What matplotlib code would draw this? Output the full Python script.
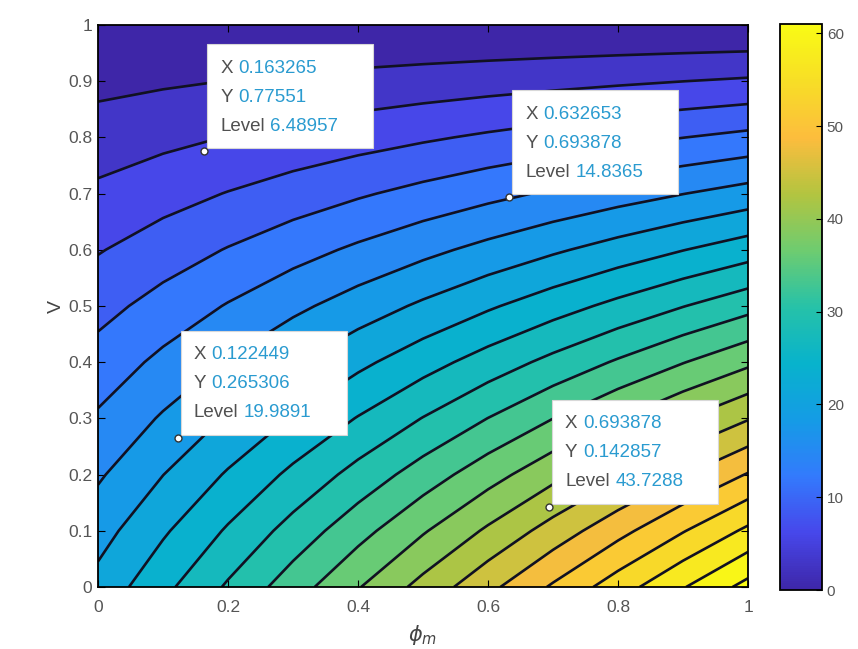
import numpy as np
import matplotlib
matplotlib.use("Agg")
import matplotlib.pyplot as plt
import matplotlib.transforms as mtransforms
from matplotlib.colors import LinearSegmentedColormap, Normalize
from matplotlib.patches import Rectangle
from matplotlib.cm import ScalarMappable

plt.rcParams['font.family'] = ['Liberation Sans', 'DejaVu Sans']

# grid nodes
phi_m = [0.0, 0.1, 0.2, 0.3, 0.4, 0.5, 0.6, 0.7, 0.8, 0.9, 1.0]
v = [0.0, 0.1, 0.2, 0.3, 0.4, 0.5, 0.6, 0.7, 0.8, 0.9, 1.0]

# level values, one row per V (V = 0 first), one column per phi_m
level = [
    [22.00, 26.20, 30.40, 34.60, 38.80, 43.00, 47.20, 51.40, 55.60, 59.80, 64.00],
    [19.80, 23.58, 27.36, 31.14, 34.92, 38.70, 42.48, 46.26, 50.04, 53.82, 57.60],
    [17.60, 20.96, 24.32, 27.68, 31.04, 34.40, 37.76, 41.12, 44.48, 47.84, 51.20],
    [15.40, 18.34, 21.28, 24.22, 27.16, 30.10, 33.04, 35.98, 38.92, 41.86, 44.80],
    [13.20, 15.72, 18.24, 20.76, 23.28, 25.80, 28.32, 30.84, 33.36, 35.88, 38.40],
    [11.00, 13.10, 15.20, 17.30, 19.40, 21.50, 23.60, 25.70, 27.80, 29.90, 32.00],
    [8.80, 10.48, 12.16, 13.84, 15.52, 17.20, 18.88, 20.56, 22.24, 23.92, 25.60],
    [6.60, 7.86, 9.12, 10.38, 11.64, 12.90, 14.16, 15.42, 16.68, 17.94, 19.20],
    [4.40, 5.24, 6.08, 6.92, 7.76, 8.60, 9.44, 10.28, 11.12, 11.96, 12.80],
    [2.20, 2.62, 3.04, 3.46, 3.88, 4.30, 4.72, 5.14, 5.56, 5.98, 6.40],
    [0.00, 0.00, 0.00, 0.00, 0.00, 0.00, 0.00, 0.00, 0.00, 0.00, 0.00],
]

# data tips
tip_x = [0.163265, 0.632653, 0.122449, 0.693878]
tip_y = [0.77551, 0.693878, 0.265306, 0.142857]
tip_level = ['6.48957', '14.8365', '19.9891', '43.7288']

contour_levels = np.arange(0, 67, 3)
cbar_ticks = [0, 10, 20, 30, 40, 50, 60]

parula = LinearSegmentedColormap.from_list('parula', [
    (0.2422, 0.1504, 0.6603), (0.2777, 0.2800, 0.9200), (0.2000, 0.4800, 0.9900),
    (0.0800, 0.6100, 0.9000), (0.0300, 0.7000, 0.8000), (0.1500, 0.7600, 0.6600),
    (0.4300, 0.8000, 0.4400), (0.7000, 0.7700, 0.2500), (0.9900, 0.7400, 0.2400),
    (0.9700, 0.8700, 0.1500), (0.9769, 0.9839, 0.0805)])
norm = Normalize(0, 61)

fig = plt.figure(figsize=(8.58, 6.49), dpi=100)
ax = fig.add_axes([0.1142, 0.0955, 0.7576, 0.866])
cax = fig.add_axes([0.909, 0.0909, 0.049, 0.872])

X, Y = np.meshgrid(phi_m, v)
Z = np.array(level)
band_colors = [parula(norm(l)) for l in contour_levels[:-1]]
ax.contourf(X, Y, Z, levels=contour_levels, colors=band_colors)
ax.contour(X, Y, Z, levels=contour_levels[1:-1], colors='#111122', linewidths=1.9)

ax.set_xlim(0, 1)
ax.set_ylim(0, 1)
ax.set_xticks([0, 0.2, 0.4, 0.6, 0.8, 1])
ax.set_xticklabels(['0', '0.2', '0.4', '0.6', '0.8', '1'])
ax.set_yticks(np.arange(0, 1.01, 0.1))
ax.set_yticklabels(['0', '0.1', '0.2', '0.3', '0.4', '0.5', '0.6', '0.7', '0.8', '0.9', '1'])
ax.tick_params(axis='x', pad=9)
ax.tick_params(axis='y', pad=4)
ax.tick_params(direction='in', length=5, width=0.8, labelsize=12.5, labelcolor='#555555',
               top=True, right=True)
for s in ax.spines.values():
    s.set_linewidth(1.3)
ax.set_ylabel('V', fontsize=14, color='#444444', labelpad=2)
ax.set_xlabel(r'$\phi_m$', fontsize=15, color='#444444', labelpad=6)

# data tip boxes, placed in pixels above-right of each point
for x, y, lv in zip(tip_x, tip_y, tip_level):
    tr = mtransforms.Affine2D() + mtransforms.ScaledTranslation(x, y, ax.transData)
    ax.add_patch(Rectangle((3, 3), 166, 104, transform=tr, facecolor='white',
                           edgecolor='#d8d8d8', linewidth=0.8, zorder=5, clip_on=False))
    rows = [('X', '%.6g' % x), ('Y', '%.6g' % y), ('Level', lv)]
    for i, (name, val) in enumerate(rows):
        t = ax.text(16, 83 - 29 * i, name, transform=tr, fontsize=13.5, color='#505050',
                    va='center', ha='left', zorder=6)
        ax.annotate(val, xy=(1, 0.5), xycoords=t, xytext=(4, 0), textcoords='offset points',
                    fontsize=13.5, color='#2a9bd0', va='center', ha='left', zorder=6)
    ax.plot(x, y, 'o', ms=5, mfc='white', mec='#333333', mew=1.0, zorder=7)

sm = ScalarMappable(norm=norm, cmap=parula)
cb = fig.colorbar(sm, cax=cax, ticks=cbar_ticks)
cb.outline.set_linewidth(1.3)
cax.tick_params(direction='in', length=4, labelsize=11, labelcolor='#555555')

fig.savefig('out.png', dpi=100)
